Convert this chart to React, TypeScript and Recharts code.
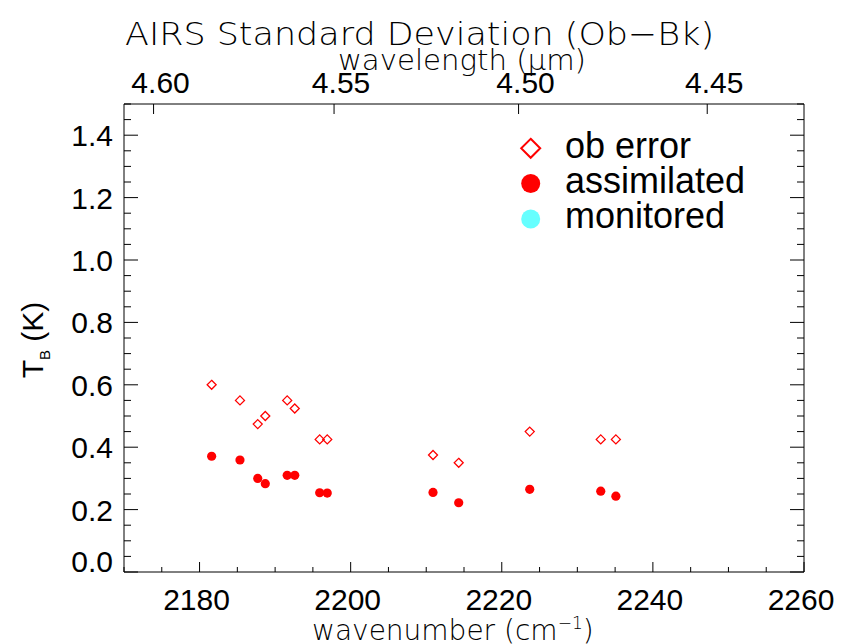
import React from 'react';
import { ScatterChart, Scatter, XAxis, YAxis, Legend } from 'recharts';

// ---- data ----
const wavenumbers = [2181.6, 2185.35, 2187.7, 2188.7, 2191.6, 2192.6, 2195.9, 2196.9, 2210.9, 2214.3, 2223.7, 2233.1, 2235.1];
const obError = [0.6, 0.55, 0.474, 0.5, 0.55, 0.524, 0.425, 0.425, 0.375, 0.35, 0.45, 0.425, 0.425];
const assimilated = [0.371, 0.359, 0.3, 0.283, 0.31, 0.31, 0.254, 0.253, 0.255, 0.222, 0.265, 0.259, 0.243];

const yTicks = [0, 0.05, 0.1, 0.15, 0.2, 0.25, 0.3, 0.35, 0.4, 0.45, 0.5, 0.55, 0.6, 0.65, 0.7, 0.75, 0.8, 0.85, 0.9, 0.95, 1.0, 1.05, 1.1, 1.15, 1.2, 1.25, 1.3, 1.35, 1.4, 1.45, 1.5];
const yMajor = [0, 0.2, 0.4, 0.6, 0.8, 1.0, 1.2, 1.4];
const xTicks = [2170, 2175, 2180, 2185, 2190, 2195, 2200, 2205, 2210, 2215, 2220, 2225, 2230, 2235, 2240, 2245, 2250, 2255, 2260];
const xMajor = [2180, 2200, 2220, 2240, 2260];
const wavelengthTicks = [4.6, 4.55, 4.5, 4.45];

const obData = wavenumbers.map((w, i) => ({ x: w, y: obError[i] }));
const asData = wavenumbers.map((w, i) => ({ x: w, y: assimilated[i] }));
const topTicks = wavelengthTicks.map((l) => 10000 / l);

const RED = '#ff0000';
const CYAN = '#66ffff';
const SANS = '"Liberation Sans", Arial, Helvetica, sans-serif';
const HERSHEY = '"DejaVu Sans", sans-serif';

const near = (v: number, arr: number[]) => arr.some((a) => Math.abs(a - v) < 1e-6);

const LeftTick = (props: any) => {
  const { x, y, payload } = props;
  const v = payload.value;
  const major = near(v, yMajor);
  return (
    <g>
      <line x1={x} x2={x + (major ? 14 : 7)} y1={y} y2={y} stroke="#000" strokeWidth={1} />
      {major && (
        <text x={x - 11} y={v === 0 ? y : y + 11} textAnchor="end" fontFamily={SANS} fontSize={30} fill="#000">
          {v.toFixed(1)}
        </text>
      )}
    </g>
  );
};

const RightTick = (props: any) => {
  const { x, y, payload } = props;
  const major = near(payload.value, yMajor);
  return <line x1={x} x2={x - (major ? 14 : 7)} y1={y} y2={y} stroke="#000" strokeWidth={1} />;
};

const BottomTick = (props: any) => {
  const { x, y, payload } = props;
  const v = payload.value;
  const major = near(v, xMajor);
  return (
    <g>
      <line x1={x} x2={x} y1={y} y2={y - (major ? 10 : 5)} stroke="#000" strokeWidth={1} />
      {major && (
        <text x={x - 3} y={y + 38} textAnchor="middle" fontFamily={SANS} fontSize={30} fill="#000">
          {String(v)}
        </text>
      )}
    </g>
  );
};

const TopTick = (props: any) => {
  const { x, y, payload } = props;
  const lam = 10000 / payload.value;
  return (
    <g>
      <line x1={x} x2={x} y1={y} y2={y + 10} stroke="#000" strokeWidth={1} />
      <text x={x + 7} y={y - 11} textAnchor="middle" fontFamily={SANS} fontSize={30} fill="#000">
        {lam.toFixed(2)}
      </text>
    </g>
  );
};

const Diamond = (props: any) => {
  const { cx, cy } = props;
  const r = 4.5;
  return (
    <path
      d={`M${cx},${cy - r}L${cx + r},${cy}L${cx},${cy + r}L${cx - r},${cy}Z`}
      fill="none"
      stroke={RED}
      strokeWidth={1.3}
    />
  );
};

const Dot = (props: any) => {
  const { cx, cy } = props;
  return <circle cx={cx} cy={cy} r={4.6} fill={RED} />;
};

const LegendContent = () => (
  <svg width={300} height={115} style={{ display: 'block' }}>
    <path d="M30.7,13.8L40.2,23.3L30.7,32.8L21.2,23.3Z" fill="none" stroke={RED} strokeWidth={2} />
    <circle cx={30.7} cy={58.5} r={9.5} fill={RED} />
    <circle cx={30.7} cy={94} r={9.5} fill={CYAN} />
    <text x={65} y={33} fontFamily={SANS} fontSize={36} fill="#000">ob error</text>
    <text x={65} y={68} fontFamily={SANS} fontSize={36} fill="#000">assimilated</text>
    <text x={65} y={103} fontFamily={SANS} fontSize={36} fill="#000">monitored</text>
  </svg>
);

export default function App() {
  return (
    <div style={{ position: 'absolute', left: 0, top: 0, width: 844, height: 644, background: '#fff' }}>
      <ScatterChart width={844} height={644} margin={{ top: 64, right: 0, bottom: 32, left: 64 }}>
        <XAxis
          xAxisId={0}
          dataKey="x"
          type="number"
          domain={[2170, 2260]}
          ticks={xTicks}
          interval={0}
          tickSize={0}
          tickMargin={0}
          tickLine={false}
          tick={<BottomTick />}
          height={40}
          axisLine={{ stroke: '#000', strokeWidth: 1 }}
          allowDataOverflow
        />
        <XAxis
          xAxisId="top"
          orientation="top"
          dataKey="x"
          type="number"
          domain={[2170, 2260]}
          ticks={topTicks}
          interval={0}
          tickSize={0}
          tickMargin={0}
          tickLine={false}
          tick={<TopTick />}
          height={40}
          axisLine={{ stroke: '#000', strokeWidth: 1 }}
          allowDataOverflow
        />
        <YAxis
          yAxisId={0}
          dataKey="y"
          type="number"
          domain={[0, 1.5]}
          ticks={yTicks}
          interval={0}
          tickSize={0}
          tickMargin={0}
          tickLine={false}
          tick={<LeftTick />}
          width={60}
          axisLine={{ stroke: '#000', strokeWidth: 1 }}
          allowDataOverflow
        />
        <YAxis
          yAxisId="right"
          orientation="right"
          dataKey="y"
          type="number"
          domain={[0, 1.5]}
          ticks={yTicks}
          interval={0}
          tickSize={0}
          tickMargin={0}
          tickLine={false}
          tick={<RightTick />}
          width={40}
          axisLine={{ stroke: '#000', strokeWidth: 1 }}
          allowDataOverflow
        />
        <Legend
          layout="vertical"
          align="center"
          verticalAlign="middle"
          wrapperStyle={{ position: 'absolute', left: 500, top: 125, width: 300, height: 115 }}
          content={<LegendContent />}
        />
        <Scatter name="ob error" data={obData} xAxisId={0} yAxisId={0} shape={<Diamond />} isAnimationActive={false} />
        <Scatter name="assimilated" data={asData} xAxisId={0} yAxisId={0} shape={<Dot />} isAnimationActive={false} />
      </ScatterChart>
      <svg width={844} height={644} style={{ position: 'absolute', left: 0, top: 0, pointerEvents: 'none' }}>
        <text x={125} y={45} fontFamily={HERSHEY} fontWeight={200} fontSize={32} fill="#000" textLength={589} lengthAdjust="spacingAndGlyphs">
          AIRS Standard Deviation (Ob−Bk)
        </text>
        <text x={338} y={70} fontFamily={HERSHEY} fontWeight={200} fontSize={28} fill="#000" textLength={248} lengthAdjust="spacingAndGlyphs">
          wavelength (μm)
        </text>
        <text x={312} y={640} fontFamily={HERSHEY} fontWeight={200} fontSize={28} fill="#000">
          wavenumber (cm<tspan dy={-11} fontSize={17}>−1</tspan><tspan dy={11}>)</tspan>
        </text>
        <text transform="translate(43,340) rotate(-90)" textAnchor="middle" fontFamily={SANS} fontSize={30} fill="#000">
          T<tspan dy={7} fontSize={15}>B</tspan><tspan dy={-7}> (K)</tspan>
        </text>
      </svg>
    </div>
  );
}
